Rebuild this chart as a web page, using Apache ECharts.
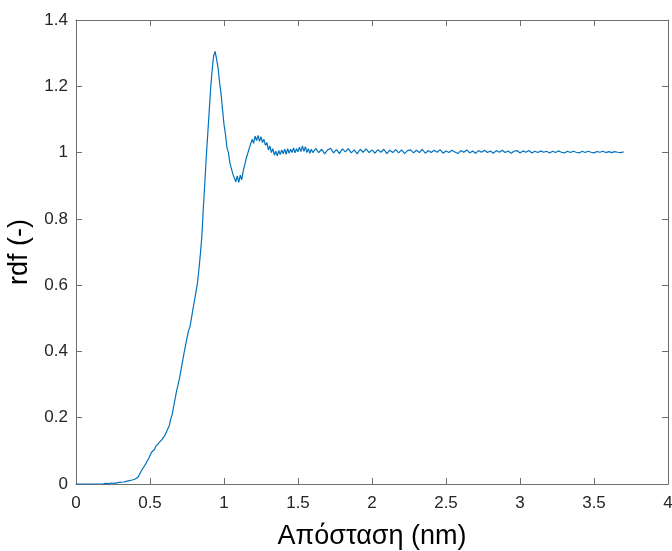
<!DOCTYPE html>
<html>
<head>
<meta charset="utf-8">
<script src="https://cdn.jsdelivr.net/npm/echarts@6/dist/echarts.min.js"></script>
<style>html,body{margin:0;padding:0;background:#fff;}#c{width:672px;height:551px;}</style>
</head>
<body>
<div id="c"></div>
<script>
// Distance grid (nm): near part sampled every 0.01 starting at 0, far part every 0.02 starting at 1.62
const nearStart = 0.00, nearStep = 0.01;
const rdfNear = [
0,0,0,0,0,0,0,0,0,0,
0,0,0,0,0,0.003,0,0,0,0,
0.002,0,0.001,0,0.003,0.001,0.002,0.001,0.004,0.002,
0.005,0.003,0.006,0.004,0.008,0.006,0.010,0.008,0.012,0.011,
0.015,0.020,0.021,0.030,0.035,0.046,0.050,0.060,0.064,0.076,
0.082,0.096,0.100,0.104,0.114,0.112,0.124,0.122,0.134,0.132,
0.146,0.152,0.166,0.176,0.196,0.210,0.234,0.258,0.282,0.300,
0.320,0.345,0.370,0.395,0.418,0.440,0.462,0.475,0.500,0.528,
0.552,0.578,0.605,0.645,0.692,0.745,0.830,0.905,0.985,1.055,
1.125,1.195,1.250,1.292,1.305,1.282,1.255,1.212,1.178,1.130,
1.085,1.055,1.015,1.000,0.968,0.962,0.935,0.938,0.912,0.930,
0.910,0.932,0.918,0.945,0.950,0.982,0.980,1.012,1.010,1.040,
1.028,1.050,1.036,1.052,1.034,1.048,1.030,1.040,1.022,1.030,
1.008,1.020,1.000,1.012,0.992,1.004,0.990,1.006,0.994,1.008,
0.996,1.010,0.995,1.012,0.998,1.010,1.000,1.014,0.999,1.012,
1.002,1.016,1.003,1.020,1.004,1.018,1.000,1.012,0.998,1.010,
1.000
];
const farStart = 1.62, farStep = 0.02;
const rdfFar = [
1.012,1.000,1.010,0.996,1.008,1.013,0.999,1.009,0.997,1.011,
1.002,1.012,0.999,1.008,0.996,1.010,1.001,1.011,1.000,1.008,
0.998,1.009,1.001,1.010,0.997,1.007,1.000,1.009,0.999,1.008,
0.997,1.006,1.008,0.999,1.007,1.000,1.010,0.998,1.006,1.000,
1.007,1.001,1.009,0.998,1.005,1.000,1.007,1.002,0.997,1.006,
1.001,1.008,0.999,1.005,0.998,1.006,1.001,1.007,1.000,1.005,
0.998,1.006,1.001,1.007,1.000,1.005,0.998,1.004,1.006,0.999,
1.005,1.001,1.006,0.999,1.004,1.000,1.005,1.001,1.004,0.999,
1.004,1.000,1.005,1.001,0.999,1.004,1.000,1.004,1.001,0.999,
1.004,1.000,1.004,1.001,0.999,1.003,1.001,1.004,1.000,1.003,
1.000,1.003,1.001,1.000,1.002
];
const xTicks = [0, 0.5, 1, 1.5, 2, 2.5, 3, 3.5, 4];
const yTicks = [0, 0.2, 0.4, 0.6, 0.8, 1, 1.2, 1.4];
const xLabel = 'Απόσταση (nm)';
const yLabel = 'rdf (-)';

const points = [];
rdfNear.forEach((v, i) => points.push([+(nearStart + i * nearStep).toFixed(2), v]));
rdfFar.forEach((v, i) => points.push([+(farStart + i * farStep).toFixed(2), v]));

const axisColor = '#6e6e6e';
const textColor = '#262626';
const font = 'Liberation Sans, Arial, Helvetica, sans-serif';

const chart = echarts.init(document.getElementById('c'), null, {renderer: 'canvas'});
chart.setOption({
  animation: false,
  backgroundColor: '#fff',
  grid: {left: 76, right: 4, top: 20, bottom: 67, containLabel: false, outerBoundsMode: 'none'},
  xAxis: [{
    type: 'value', min: xTicks[0], max: xTicks[xTicks.length - 1], interval: 0.5,
    position: 'bottom',
    name: xLabel, nameLocation: 'middle', nameGap: 39,
    nameTextStyle: {fontSize: 27, color: '#000', fontFamily: font},
    axisLine: {show: true, onZero: false, lineStyle: {color: axisColor, width: 1}},
    axisTick: {show: true, inside: true, length: 6, lineStyle: {color: axisColor}},
    axisLabel: {show: true, margin: 11, fontSize: 17, color: textColor, fontFamily: font,
      formatter: v => String(v)},
    splitLine: {show: false}
  }, {
    type: 'value', min: xTicks[0], max: xTicks[xTicks.length - 1], interval: 0.5,
    position: 'top',
    axisLine: {show: true, onZero: false, lineStyle: {color: axisColor, width: 1}},
    axisTick: {show: true, inside: true, length: 6, lineStyle: {color: axisColor}},
    axisLabel: {show: false}, splitLine: {show: false}
  }],
  yAxis: [{
    type: 'value', min: yTicks[0], max: yTicks[yTicks.length - 1], interval: 0.2,
    position: 'left',
    name: yLabel, nameLocation: 'middle', nameGap: 42, nameRotate: 90,
    nameTextStyle: {fontSize: 27, color: '#000', fontFamily: font},
    axisLine: {show: true, onZero: false, lineStyle: {color: axisColor, width: 1}},
    axisTick: {show: true, inside: true, length: 6, lineStyle: {color: axisColor}},
    axisLabel: {show: true, margin: 8, fontSize: 17, color: textColor, fontFamily: font,
      formatter: v => String(+v.toFixed(1))},
    splitLine: {show: false}
  }, {
    type: 'value', min: yTicks[0], max: yTicks[yTicks.length - 1], interval: 0.2,
    position: 'right',
    axisLine: {show: true, onZero: false, lineStyle: {color: axisColor, width: 1}},
    axisTick: {show: true, inside: true, length: 6, lineStyle: {color: axisColor}},
    axisLabel: {show: false}, splitLine: {show: false}
  }],
  series: [{
    type: 'line', xAxisIndex: 0, yAxisIndex: 0,
    data: points, showSymbol: false, symbol: 'none', smooth: false,
    lineStyle: {color: '#0072BD', width: 1.2},
    clip: true
  }]
});
</script>
</body>
</html>
